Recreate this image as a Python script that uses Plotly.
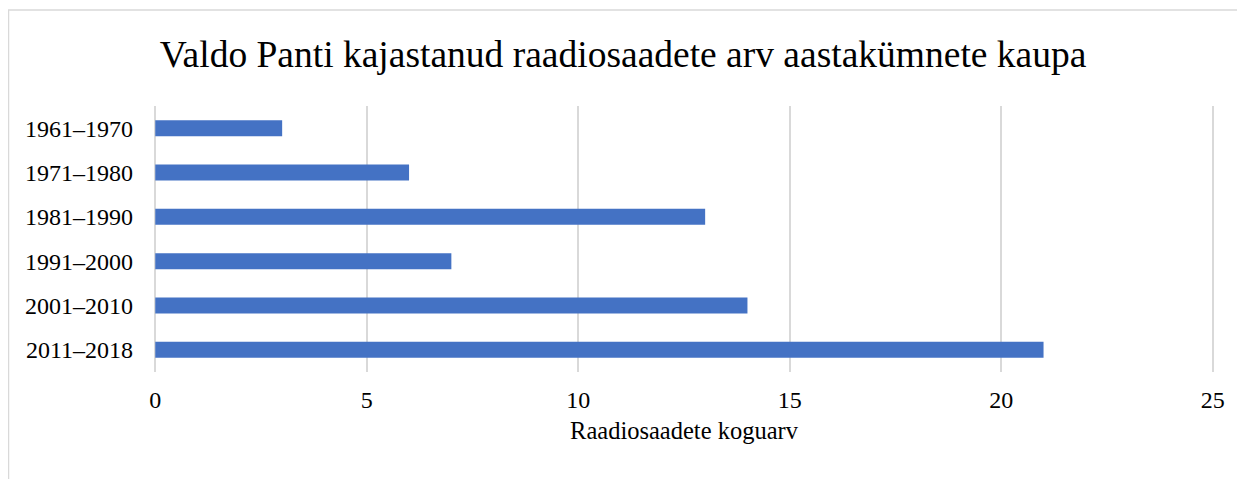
import plotly.graph_objects as go

categories = ["1961–1970", "1971–1980", "1981–1990", "1991–2000", "2001–2010", "2011–2018"]
values = [3, 6, 13, 7, 14, 21]
x_ticks = [0, 5, 10, 15, 20, 25]

# page body has an 8px margin; the figure sits at (8, 8)
OFF = 8
W, H = 1245 - OFF, 479 - OFF
L, R, T, B = 154 - OFF, 31, 106 - OFF, 107
pw, ph = W - L - R, H - T - B

font_family = "Liberation Serif, Times New Roman, serif"

fig = go.Figure(go.Bar(
    x=values, y=categories, orientation="h",
    marker=dict(color="#4472C4", line=dict(width=0)),
    width=0.36,
))

fig.update_layout(
    width=W, height=H,
    margin=dict(l=L, r=R, t=T, b=B),
    paper_bgcolor="white", plot_bgcolor="white",
    font=dict(family=font_family, color="#000000", size=24),
    title=dict(text="Valdo Panti kajastanud raadiosaadete arv aastakümnete kaupa",
               x=(623 - OFF) / W, xanchor="center", y=1 - (54 - OFF) / H, yanchor="middle",
               font=dict(size=37.5, family=font_family, color="#000000")),
    showlegend=False,
)
fig.update_xaxes(
    range=[-0.03, 25.03], tickvals=x_ticks, showgrid=True, gridcolor="#D9D9D9", gridwidth=1.5,
    zeroline=False, showline=False, ticks="",
    title=dict(text="Raadiosaadete koguarv", font=dict(size=24.5, family=font_family), standoff=9),
    tickfont=dict(size=24, family=font_family), ticklabelstandoff=11,
)
fig.update_yaxes(
    categoryorder="array", categoryarray=categories, autorange="reversed",
    showgrid=False, zeroline=False, showline=False, ticks="",
    tickfont=dict(size=24, family=font_family), ticklabelstandoff=20,
)

x0 = (8 - OFF - L) / pw
y1 = 1 + (T - (10 - OFF)) / ph
fig.add_shape(type="rect", xref="paper", yref="paper",
              x0=x0 + 0.5 / pw, x1=1 + (R + 20) / pw, y0=-(B + 20) / ph, y1=y1,
              line=dict(color="#D9D9D9", width=1.5), fillcolor="rgba(0,0,0,0)", layer="below")

fig.write_html("out.html")
